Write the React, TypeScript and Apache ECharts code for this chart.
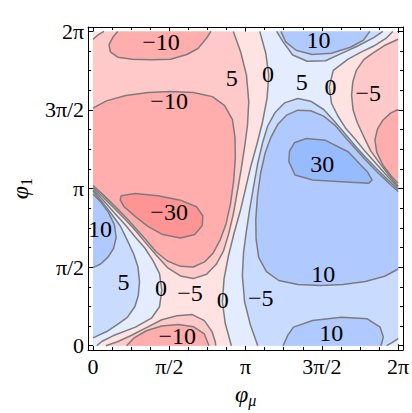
import React, { useEffect, useRef } from 'react';
import * as echarts from 'echarts';

// ---- axis ticks (values in units of π) ----
const TICK_VALUES = [0, 0.5, 1, 1.5, 2];
const TICK_LABELS = ['0', 'π/2', 'π', '3π/2', '2π'];
const MINOR_TICK_VALUES = [0, 0.125, 0.25, 0.375, 0.5, 0.625, 0.75, 0.875, 1, 1.125, 1.25, 1.375, 1.5, 1.625, 1.75, 1.875, 2];

// ---- contour levels and band colours ----
const BAND_COLORS: Record<string, string> = {
  ltM30: '#FF9494',
  m30m10: '#FFADAD',
  m10m5: '#FFC9C9',
  m5z: '#FFE3E3',
  z5: '#E3EDFF',
  p5p10: '#C9DBFF',
  p10p30: '#B0CAFF',
  gt30: '#97BBFF',
};

// ---- contour lines, points are [φμ/π, φ1/π] ----
// level -5
const lineM5Corner = [[0, 1.95], [0.036, 1.979], [0.072, 2]];
const lineM5Main = [[0, 1.006], [0.067, 0.945], [0.141, 0.874], [0.215, 0.8], [0.278, 0.733], [0.341, 0.659], [0.415, 0.575], [0.488, 0.497], [0.573, 0.444], [0.657, 0.427], [0.745, 0.455], [0.808, 0.518], [0.855, 0.602], [0.888, 0.707], [0.92, 0.838], [0.947, 0.985], [0.973, 1.133], [0.996, 1.28], [1.013, 1.406], [1.021, 1.554], [1.006, 1.722], [0.968, 1.869], [0.92, 2]];
const lineM5Bottom = [[0.084, 0], [0.16, 0.025], [0.25, 0.065], [0.35, 0.115], [0.451, 0.165], [0.55, 0.19], [0.651, 0.198], [0.73, 0.16], [0.78, 0.09], [0.8, 0.03], [0.805, 0]];
const lineM5Right = [[2, 1.015], [1.94, 1.085], [1.88, 1.16], [1.82, 1.24], [1.775, 1.33], [1.732, 1.42], [1.705, 1.5], [1.695, 1.594], [1.703, 1.68], [1.726, 1.752], [1.775, 1.82], [1.827, 1.857], [1.91, 1.91], [2, 1.95]];
// level -10
const lineM10Top = [[0.162, 2], [0.131, 1.964], [0.105, 1.916], [0.114, 1.869], [0.162, 1.836], [0.257, 1.823], [0.383, 1.819], [0.509, 1.823], [0.615, 1.853], [0.688, 1.891], [0.745, 1.958], [0.773, 2]];
const lineM10Main = [[0, 1.019], [0.067, 0.96], [0.141, 0.891], [0.215, 0.817], [0.278, 0.749], [0.341, 0.68], [0.415, 0.596], [0.488, 0.539], [0.573, 0.505], [0.657, 0.501], [0.731, 0.533], [0.787, 0.589], [0.834, 0.674], [0.872, 0.775], [0.901, 0.901], [0.922, 1.048], [0.933, 1.196], [0.931, 1.322], [0.914, 1.438], [0.863, 1.528], [0.783, 1.585], [0.657, 1.611], [0.509, 1.617], [0.362, 1.611], [0.215, 1.592], [0.088, 1.558], [0, 1.512]];
const lineM10Bottom = [[0.22, 0], [0.27, 0.05], [0.35, 0.095], [0.45, 0.125], [0.56, 0.135], [0.66, 0.12], [0.73, 0.075], [0.76, 0]];
const lineM10Right = [[2, 1.034], [1.954, 1.08], [1.9, 1.15], [1.86, 1.23], [1.848, 1.31], [1.865, 1.38], [1.9, 1.435], [1.95, 1.48], [2, 1.503]];
// level -30
const lineM30 = [[0.183, 0.954], [0.278, 0.968], [0.425, 0.954], [0.573, 0.926], [0.678, 0.884], [0.72, 0.827], [0.716, 0.764], [0.667, 0.707], [0.573, 0.686], [0.457, 0.707], [0.362, 0.758], [0.278, 0.821], [0.204, 0.884], [0.179, 0.926], [0.183, 0.954]];
// level 0
const lineZeroLeft = [[0, 0.994], [0.067, 0.925], [0.141, 0.845], [0.215, 0.765], [0.278, 0.69], [0.341, 0.62], [0.394, 0.54], [0.436, 0.459], [0.451, 0.354], [0.436, 0.248], [0.383, 0.175], [0.278, 0.118], [0.131, 0.063], [0.057, 0.027], [0.025, 0]];
const lineZeroMid = [[1.093, 2], [1.133, 1.859], [1.152, 1.722], [1.141, 1.575], [1.112, 1.427], [1.074, 1.28], [1.032, 1.133], [1, 1], [0.968, 0.867], [0.926, 0.72], [0.888, 0.573], [0.859, 0.425], [0.848, 0.278], [0.867, 0.141], [0.907, 0]];
const lineZeroRight = [[2, 1.006], [1.933, 1.075], [1.859, 1.155], [1.785, 1.235], [1.722, 1.31], [1.659, 1.38], [1.606, 1.46], [1.564, 1.541], [1.549, 1.646], [1.575, 1.752], [1.672, 1.823], [1.76, 1.87], [1.84, 1.907], [1.92, 1.955], [1.965, 2]];
// level 5
const lineP5Corner = [[1.925, 0], [1.96, 0.02], [2, 0.045]];
const lineP5Main = [[2, 0.994], [1.933, 1.055], [1.859, 1.126], [1.785, 1.2], [1.722, 1.267], [1.659, 1.341], [1.585, 1.425], [1.512, 1.503], [1.427, 1.556], [1.343, 1.573], [1.255, 1.545], [1.192, 1.482], [1.145, 1.398], [1.112, 1.293], [1.08, 1.162], [1.053, 1.015], [1.027, 0.867], [1.004, 0.72], [0.987, 0.594], [0.979, 0.446], [0.994, 0.278], [1.032, 0.131], [1.08, 0]];
const lineP5Top = [[1.204, 2], [1.246, 1.933], [1.309, 1.85], [1.404, 1.81], [1.524, 1.813], [1.63, 1.86], [1.735, 1.907], [1.84, 1.96], [1.9, 2]];
const lineP5Left = [[0, 0.985], [0.06, 0.915], [0.12, 0.84], [0.18, 0.76], [0.225, 0.67], [0.268, 0.58], [0.295, 0.5], [0.305, 0.406], [0.297, 0.32], [0.274, 0.248], [0.225, 0.18], [0.173, 0.143], [0.09, 0.09], [0, 0.05]];
// level 10
const lineP10Top = [[1.232, 2], [1.263, 1.933], [1.331, 1.88], [1.436, 1.853], [1.562, 1.861], [1.688, 1.899], [1.773, 1.945], [1.815, 2]];
const lineP10Main = [[2, 0.981], [1.933, 1.04], [1.859, 1.109], [1.785, 1.183], [1.722, 1.251], [1.659, 1.32], [1.585, 1.404], [1.512, 1.461], [1.427, 1.495], [1.343, 1.499], [1.269, 1.467], [1.213, 1.411], [1.166, 1.326], [1.128, 1.225], [1.099, 1.099], [1.078, 0.952], [1.067, 0.804], [1.069, 0.678], [1.086, 0.562], [1.137, 0.472], [1.217, 0.415], [1.343, 0.389], [1.491, 0.383], [1.638, 0.389], [1.785, 0.408], [1.912, 0.442], [2, 0.488]];
const lineP10Bottom = [[1.246, 0], [1.278, 0.069], [1.314, 0.118], [1.44, 0.16], [1.629, 0.181], [1.798, 0.171], [1.882, 0.118], [1.903, 0.055], [1.888, 0]];
const lineP10Left = [[0, 0.966], [0.046, 0.92], [0.1, 0.85], [0.14, 0.77], [0.152, 0.69], [0.135, 0.62], [0.1, 0.565], [0.05, 0.52], [0, 0.497]];
// level 30
const lineP30 = [[1.288, 1.238], [1.32, 1.291], [1.398, 1.318], [1.524, 1.307], [1.672, 1.234], [1.798, 1.107], [1.829, 1.055], [1.808, 1.034], [1.629, 1.044], [1.44, 1.055], [1.324, 1.086], [1.284, 1.171], [1.288, 1.238]];

// ---- contour labels ----
const LABEL_TEXTS = ['−10', '−10', '5', '0', '5', '0', '−5', '10', '30', '−30', '10', '10', '5', '0', '−5', '0', '−5', '−10', '10'];
const LABEL_POSITIONS = [[0.446, 1.933], [0.499, 1.554], [0.909, 1.701], [1.147, 1.726], [1.368, 1.676], [1.556, 1.648], [1.804, 1.606], [1.478, 1.943], [1.503, 1.158], [0.499, 0.848], [0.046, 0.743], [1.509, 0.459], [0.2, 0.406], [0.446, 0.364], [0.636, 0.333], [0.851, 0.291], [1.099, 0.301], [0.552, 0.059], [1.562, 0.08]];

const CONTOUR_LINES = [
  lineM5Corner, lineM5Main, lineM5Bottom, lineM5Right,
  lineM10Top, lineM10Main, lineM10Bottom, lineM10Right, lineM30,
  lineZeroLeft, lineZeroMid, lineZeroRight,
  lineP5Corner, lineP5Main, lineP5Top, lineP5Left,
  lineP10Top, lineP10Main, lineP10Bottom, lineP10Left, lineP30,
];

// filled regions, painted in order (each contour closed along the plot edge)
const REGIONS = [
  { pts: [[0, 0], [2, 0], [2, 2], [0, 2]], band: 'm5z' },
  { pts: [...lineZeroMid, [2, 0], ...lineZeroRight], band: 'z5' },
  { pts: [...lineZeroLeft, [0, 0]], band: 'z5' },
  { pts: [...lineP5Main, ...lineP5Corner], band: 'p5p10' },
  { pts: lineP5Top, band: 'p5p10' },
  { pts: lineP5Left, band: 'p5p10' },
  { pts: lineP10Main, band: 'p10p30' },
  { pts: lineP10Top, band: 'p10p30' },
  { pts: lineP10Bottom, band: 'p10p30' },
  { pts: lineP10Left, band: 'p10p30' },
  { pts: lineP30, band: 'gt30' },
  { pts: [...lineM5Main, ...[...lineM5Corner].reverse()], band: 'm10m5' },
  { pts: lineM5Bottom, band: 'm10m5' },
  { pts: lineM5Right, band: 'm10m5' },
  { pts: lineM10Main, band: 'm30m10' },
  { pts: lineM10Top, band: 'm30m10' },
  { pts: lineM10Bottom, band: 'm30m10' },
  { pts: lineM10Right, band: 'm30m10' },
  { pts: lineM30, band: 'ltM30' },
];

const FONT = 'Liberation Serif, Times New Roman, serif';

function tickLabel(v: number) {
  const i = TICK_VALUES.findIndex((t) => Math.abs(t - v) < 1e-6);
  return i >= 0 ? TICK_LABELS[i] : '';
}

const X_MIN = -0.032, X_MAX = 2.032, Y_MIN = -0.028, Y_MAX = 2.028;

function makeX(position: 'bottom' | 'top', minor: boolean, withLabels: boolean, extra: any = {}) {
  return {
    type: 'value', position, min: X_MIN, max: X_MAX, gridIndex: 0,
    axisLine: { show: !minor, onZero: false, lineStyle: { color: '#000', width: 1 } },
    splitLine: { show: false },
    axisTick: { show: true, inside: true, length: minor ? 3 : 6, customValues: minor ? MINOR_TICK_VALUES : TICK_VALUES, lineStyle: { color: '#000', width: 1 } },
    axisLabel: withLabels
      ? { show: true, customValues: TICK_VALUES, formatter: tickLabel, fontFamily: FONT, fontSize: 22, color: '#000', margin: 5 }
      : { show: false },
    ...extra,
  };
}
function makeY(position: 'left' | 'right', minor: boolean, withLabels: boolean, extra: any = {}) {
  return {
    type: 'value', position, min: Y_MIN, max: Y_MAX, gridIndex: 0,
    axisLine: { show: !minor, onZero: false, lineStyle: { color: '#000', width: 1 } },
    splitLine: { show: false },
    axisTick: { show: true, inside: true, length: minor ? 3 : 6, customValues: minor ? MINOR_TICK_VALUES : TICK_VALUES, lineStyle: { color: '#000', width: 1 } },
    axisLabel: withLabels
      ? { show: true, customValues: TICK_VALUES, formatter: tickLabel, fontFamily: FONT, fontSize: 22, color: '#000', margin: 4 }
      : { show: false },
    ...extra,
  };
}

export default function App() {
  const ref = useRef<HTMLDivElement>(null);
  useEffect(() => {
    if (!ref.current) return;
    const chart = echarts.init(ref.current, null, { renderer: 'svg' });
    const option: any = {
      animation: false,
      backgroundColor: '#fff',
      grid: { left: 76, right: 9, top: 27, bottom: 60, containLabel: false },
      xAxis: [
        makeX('bottom', false, true, {
          name: '{i|φ}{s|μ}', nameLocation: 'middle', nameGap: 29,
          nameTextStyle: { rich: { i: { fontFamily: FONT, fontStyle: 'italic', fontSize: 24, color: '#000' }, s: { fontFamily: FONT, fontStyle: 'italic', fontSize: 16, color: '#000', padding: [12, 0, 0, 0] } } },
        }),
        makeX('bottom', true, false),
        makeX('top', false, false),
        makeX('top', true, false),
      ],
      yAxis: [
        makeY('left', false, true, {
          name: '{i|φ}{s|1}', nameLocation: 'middle', nameGap: 51, nameRotate: 90,
          nameTextStyle: { rich: { i: { fontFamily: FONT, fontStyle: 'italic', fontSize: 24, color: '#000' }, s: { fontFamily: FONT, fontSize: 16, color: '#000', padding: [12, 0, 0, 0] } } },
        }),
        makeY('left', true, false),
        makeY('right', false, false),
        makeY('right', true, false),
      ],
      series: [
        {
          type: 'custom', xAxisIndex: 0, yAxisIndex: 0, silent: true, clip: false,
          data: REGIONS.map((r) => [r.pts[0][0], r.pts[0][1]]),
          encode: { x: 0, y: 1 },
          renderItem: (params: any, api: any) => {
            const r = REGIONS[params.dataIndex];
            return {
              type: 'polygon',
              shape: { points: r.pts.map((p) => api.coord(p)) },
              style: { fill: BAND_COLORS[r.band], stroke: 'none' },
            };
          },
          z: 1,
        },
        {
          type: 'custom', xAxisIndex: 0, yAxisIndex: 0, silent: true, clip: false,
          data: CONTOUR_LINES.map((l) => [l[0][0], l[0][1]]),
          encode: { x: 0, y: 1 },
          renderItem: (params: any, api: any) => {
            const l = CONTOUR_LINES[params.dataIndex];
            return {
              type: 'polyline',
              shape: { points: l.map((p) => api.coord(p)) },
              style: { fill: 'none', stroke: '#7c7c7c', lineWidth: 1.5, lineJoin: 'round' },
            };
          },
          z: 2,
        },
        {
          type: 'custom', xAxisIndex: 0, yAxisIndex: 0, silent: true, clip: false,
          data: LABEL_POSITIONS.map((p) => [p[0], p[1]]),
          encode: { x: 0, y: 1 },
          renderItem: (params: any, api: any) => {
            const c = api.coord(LABEL_POSITIONS[params.dataIndex]);
            return {
              type: 'text', x: c[0], y: c[1],
              style: { text: LABEL_TEXTS[params.dataIndex], fill: '#000', font: `24px ${FONT}`, align: 'center', verticalAlign: 'middle' },
            };
          },
          z: 3,
        },
      ],
    };
    chart.setOption(option);
    return () => chart.dispose();
  }, []);
  return <div ref={ref} style={{ position: 'fixed', left: 0, top: 0, width: 412, height: 413 }} />;
}
